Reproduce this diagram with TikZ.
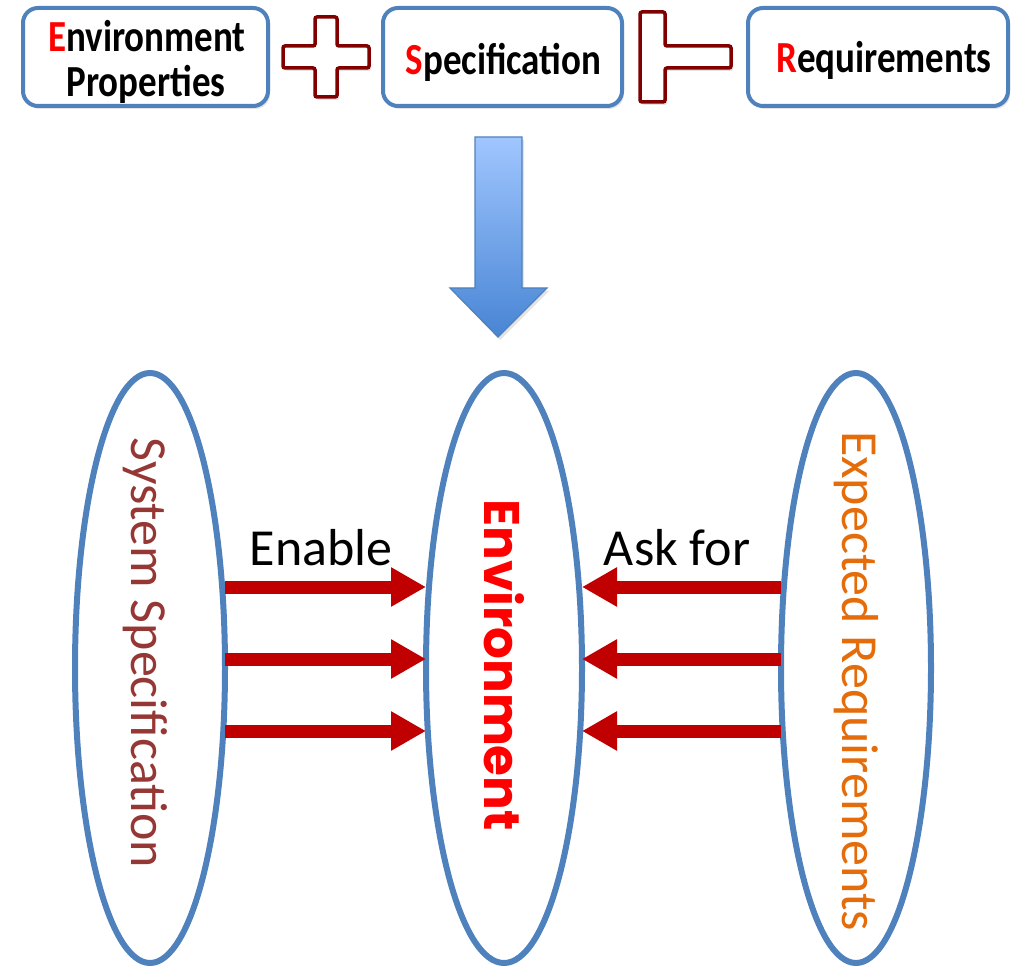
\documentclass[tikz,border=0pt]{standalone}
\usepackage{fontspec}
\setmainfont{Carlito}
\newfontfamily\envfont{Poppins}
\usetikzlibrary{arrows.meta,shapes.geometric,shadows}
\definecolor{frameblue}{RGB}{79,129,189}
\definecolor{symred}{RGB}{128,0,0}
\definecolor{arrowred}{RGB}{192,0,0}
\definecolor{keyred}{RGB}{255,0,0}
\definecolor{sysbrown}{RGB}{149,55,53}
\definecolor{reqorange}{RGB}{228,108,10}
\definecolor{flowtop}{RGB}{160,198,255}
\definecolor{flowbottom}{RGB}{72,133,212}
\newcommand{\tallword}[1]{\scalebox{1}[1.2]{#1}}
\begin{document}
\begin{tikzpicture}[x=1pt,y=-1pt,
  softshadow/.style={drop shadow={opacity=0.22,shadow xshift=2pt,shadow yshift=-3pt}},
  topbox/.style={draw=frameblue,line width=4pt,rounded corners=15pt,fill=white,
    softshadow,inner sep=0pt,outer sep=0pt,minimum height=98pt},
  boxtext/.style={anchor=base,inner sep=0pt,font=\bfseries\fontsize{37}{42}\selectfont},
  opsym/.style={draw=symred,line width=3.5pt,fill=white,rounded corners=2pt,softshadow},
  ring/.style={ellipse,draw=frameblue,line width=6pt,inner sep=0pt,outer sep=0pt,
    minimum height=590pt},
  flowlabel/.style={font=\fontsize{52}{60}\selectfont,anchor=base},
  redarrow/.style={draw=arrowred,line width=13pt,
    -{Triangle[length=35pt,width=37pt]}}
]
\useasboundingbox (0,0) rectangle (1028,968);

% formula row: E + S |- R
\node[topbox,minimum width=245pt] (envprop) at (145.5,57) {};
\node[topbox,minimum width=239pt] (spec) at (502.5,57) {};
\node[topbox,minimum width=260pt] (reqs) at (878,57) {};

\node[boxtext] (envline) at (147,52) {\tallword{\textcolor{keyred}{E}nvironment}};
\node[boxtext] (propline) at (146,97) {\tallword{Properties}};
\node[boxtext] (specline) at (503.5,75) {\tallword{\textcolor{keyred}{S}pecification}};
\node[boxtext] (reqline) at (884,73) {\tallword{\textcolor{keyred}{R}equirements}};

% plus sign
\draw[opsym] (283,46) -- (315,46) -- (315,17) -- (337,17) -- (337,46) -- (369,46)
  -- (369,68) -- (337,68) -- (337,97) -- (315,97) -- (315,68) -- (283,68) -- cycle;
% turnstile
\draw[opsym] (640,12) -- (665,12) -- (665,46) -- (731,46) -- (731,68) -- (665,68)
  -- (665,102) -- (640,102) -- cycle;

% block arrow pointing down
\draw[draw=frameblue,line width=1.2pt,top color=flowtop,bottom color=flowbottom,softshadow]
  (475,137) -- (522,137) -- (522,288) -- (547,288) -- (498,337) -- (450,288)
  -- (475,288) -- cycle;

% the three ellipses
\node[ring,minimum width=150pt] (sys) at (150,668) {};
\node[ring,minimum width=156pt] (env) at (504,668) {};
\node[ring,minimum width=150pt] (req) at (856,668) {};

\node[rotate=-90,text=sysbrown,font=\fontsize{52}{60}\selectfont] (systext) at (145,653)
  {System Specification};
\node[rotate=-90,text=keyred,font=\envfont\bfseries\fontsize{50}{60}\selectfont] (envtext) at (504,665)
  {Environment};
\node[rotate=-90,text=reqorange,font=\fontsize{52}{60}\selectfont] (reqtext) at (856,681)
  {Expected Requirements};

\node[flowlabel] (enable) at (321,565) {Enable};
\node[flowlabel] (askfor) at (677,565) {Ask for};

% influence arrows
\foreach \yy in {587,659,731} {
  \draw[redarrow] (sys.east |- 0,\yy) -- (env.west |- 0,\yy);
  \draw[redarrow] (req.west |- 0,\yy) -- (env.east |- 0,\yy);
}
\end{tikzpicture}
\end{document}
